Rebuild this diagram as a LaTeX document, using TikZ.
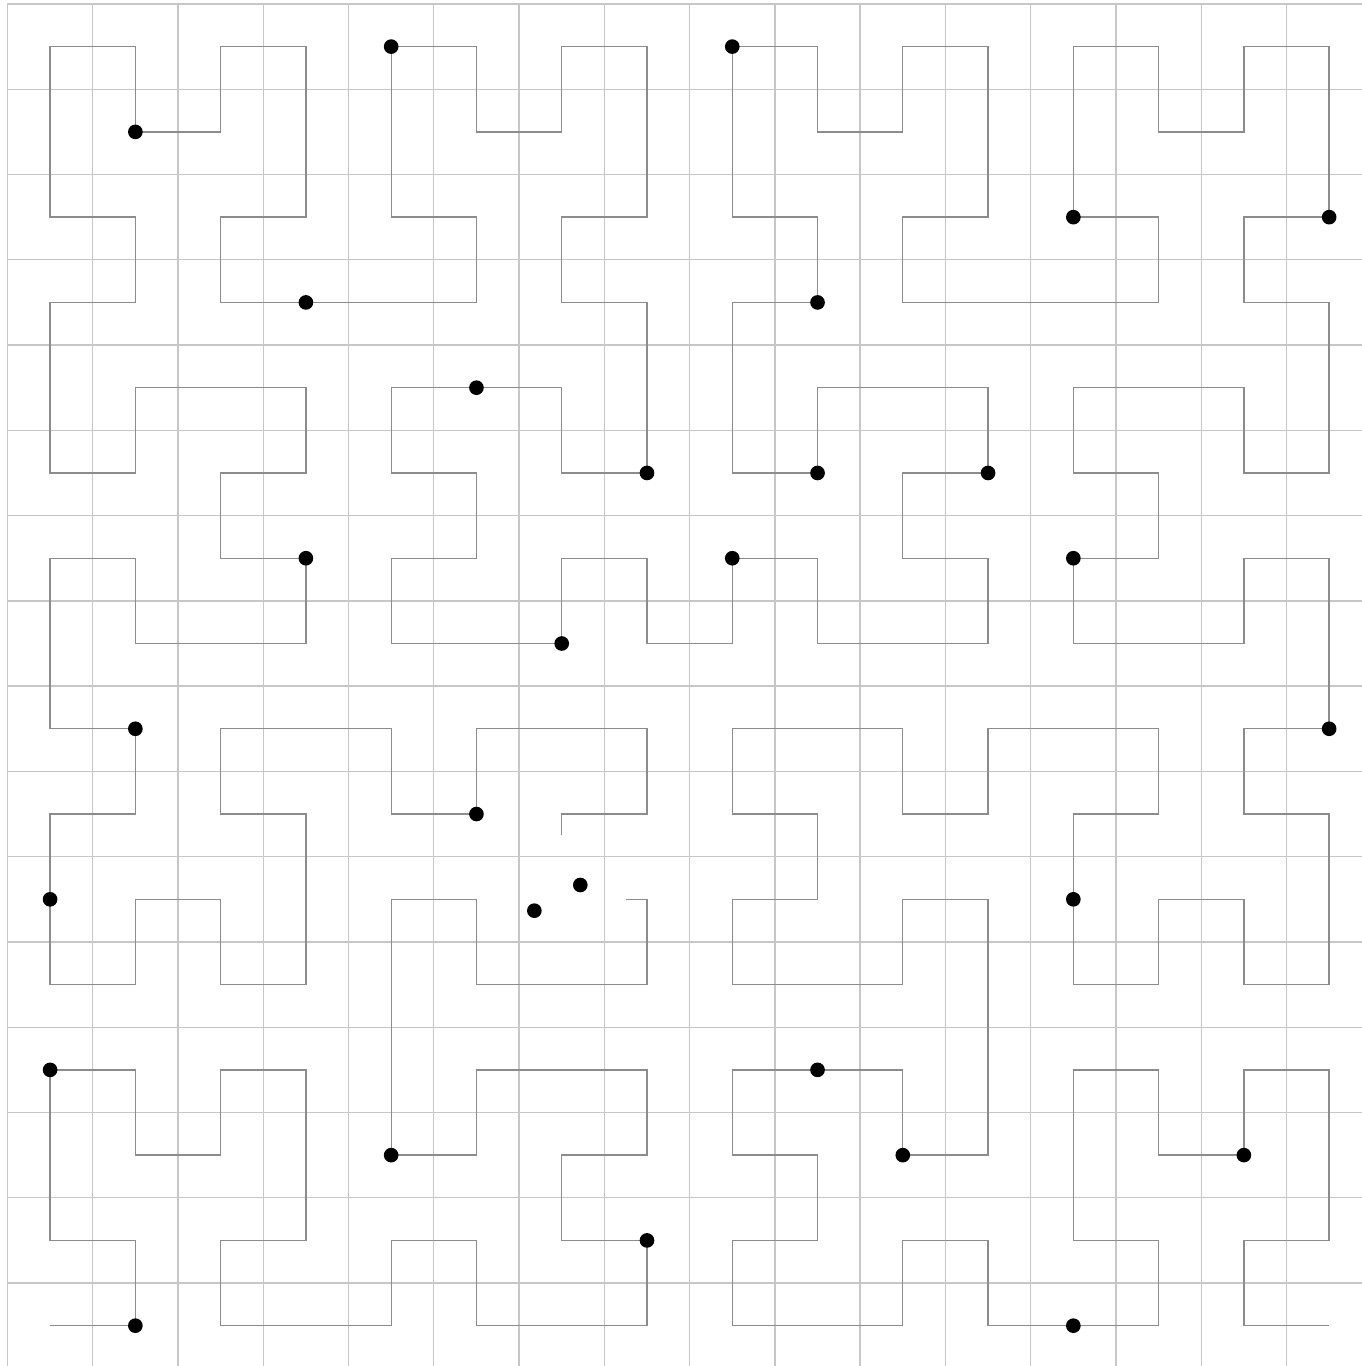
\documentclass[tikz,border=0pt]{standalone}
\begin{document}
\begin{tikzpicture}[yscale=-1,
  gridline/.style={draw=black!22, line width=0.45pt},
  curve/.style={draw=black!45, line width=0.45pt, line join=miter},
  dotmark/.style={fill=black}]
\useasboundingbox (-0.5875,-0.5465) rectangle (15.385,15.473);
\clip (-0.5875,-0.5465) rectangle (15.385,15.473);
% grid
\foreach \k in {0,...,15} {
  \draw[gridline] (-0.5+\k,-0.5) -- (-0.5+\k,15.6);
  \draw[gridline] (-0.5,-0.5+\k) -- (15.6,-0.5+\k);
}
% chain A
\draw[curve] (0,15) -- (1,15) -- (1,14) -- (0,14) -- (0,12) -- (1,12) -- (1,13) -- (2,13) -- (2,12) -- (3,12) -- (3,14) -- (2,14) -- (2,15) -- (4,15) -- (4,14) -- (5,14) -- (5,15) -- (7,15) -- (7,14) -- (6,14) -- (6,13) -- (7,13) -- (7,12) -- (5,12) -- (5,13) -- (4,13) -- (4,10) -- (5,10) -- (5,11) -- (7,11) -- (7,10) -- (6.754,10);
% chain B
\draw[curve] (6,9.246) -- (6,9) -- (7,9) -- (7,8) -- (5,8) -- (5,9) -- (4,9) -- (4,8) -- (2,8) -- (2,9) -- (3,9) -- (3,11) -- (2,11) -- (2,10) -- (1,10) -- (1,11) -- (0,11) -- (0,9) -- (1,9) -- (1,8) -- (0,8) -- (0,6) -- (1,6) -- (1,7) -- (3,7) -- (3,6) -- (2,6) -- (2,5) -- (3,5) -- (3,4) -- (1,4) -- (1,5) -- (0,5) -- (0,3) -- (1,3) -- (1,2) -- (0,2) -- (0,0) -- (1,0) -- (1,1) -- (2,1) -- (2,0) -- (3,0) -- (3,2) -- (2,2) -- (2,3) -- (5,3) -- (5,2) -- (4,2) -- (4,0) -- (5,0) -- (5,1) -- (6,1) -- (6,0) -- (7,0) -- (7,2) -- (6,2) -- (6,3) -- (7,3) -- (7,5) -- (6,5) -- (6,4) -- (4,4) -- (4,5) -- (5,5) -- (5,6) -- (4,6) -- (4,7) -- (6,7) -- (6,6) -- (7,6) -- (7,7) -- (8,7) -- (8,6) -- (9,6) -- (9,7) -- (11,7) -- (11,6) -- (10,6) -- (10,5) -- (11,5) -- (11,4) -- (9,4) -- (9,5) -- (8,5) -- (8,3) -- (9,3) -- (9,2) -- (8,2) -- (8,0) -- (9,0) -- (9,1) -- (10,1) -- (10,0) -- (11,0) -- (11,2) -- (10,2) -- (10,3) -- (13,3) -- (13,2) -- (12,2) -- (12,0) -- (13,0) -- (13,1) -- (14,1) -- (14,0) -- (15,0) -- (15,2) -- (14,2) -- (14,3) -- (15,3) -- (15,5) -- (14,5) -- (14,4) -- (12,4) -- (12,5) -- (13,5) -- (13,6) -- (12,6) -- (12,7) -- (14,7) -- (14,6) -- (15,6) -- (15,8) -- (14,8) -- (14,9) -- (15,9) -- (15,11) -- (14,11) -- (14,10) -- (13,10) -- (13,11) -- (12,11) -- (12,10) -- (12,9) -- (13,9) -- (13,8) -- (11,8) -- (11,9) -- (10,9) -- (10,8) -- (8,8) -- (8,9) -- (9,9) -- (9,10) -- (8,10) -- (8,11) -- (10,11) -- (10,10) -- (11,10) -- (11,13) -- (10,13) -- (10,12) -- (8,12) -- (8,13) -- (9,13) -- (9,14) -- (8,14) -- (8,15) -- (10,15) -- (10,14) -- (11,14) -- (11,15) -- (13,15) -- (13,14) -- (12,14) -- (12,12) -- (13,12) -- (13,13) -- (14,13) -- (14,12) -- (15,12) -- (15,14) -- (14,14) -- (14,15) -- (15,15);
% dots
\foreach \p in {(1,1),(4,0),(8,0),(3,3),(12,2),(15,2),(9,3),(5,4),(7,5),(9,5),(11,5),(3,6),(8,6),(12,6),(6,7),(1,8),(15,8),(5,9),(0,10),(12,10),(0,12),(9,12),(4,13),(10,13),(14,13),(7,14),(1,15),(12,15),(5.679,10.133),(6.218,9.832)}
  \fill[dotmark] \p circle (0.086);
\end{tikzpicture}
\end{document}
